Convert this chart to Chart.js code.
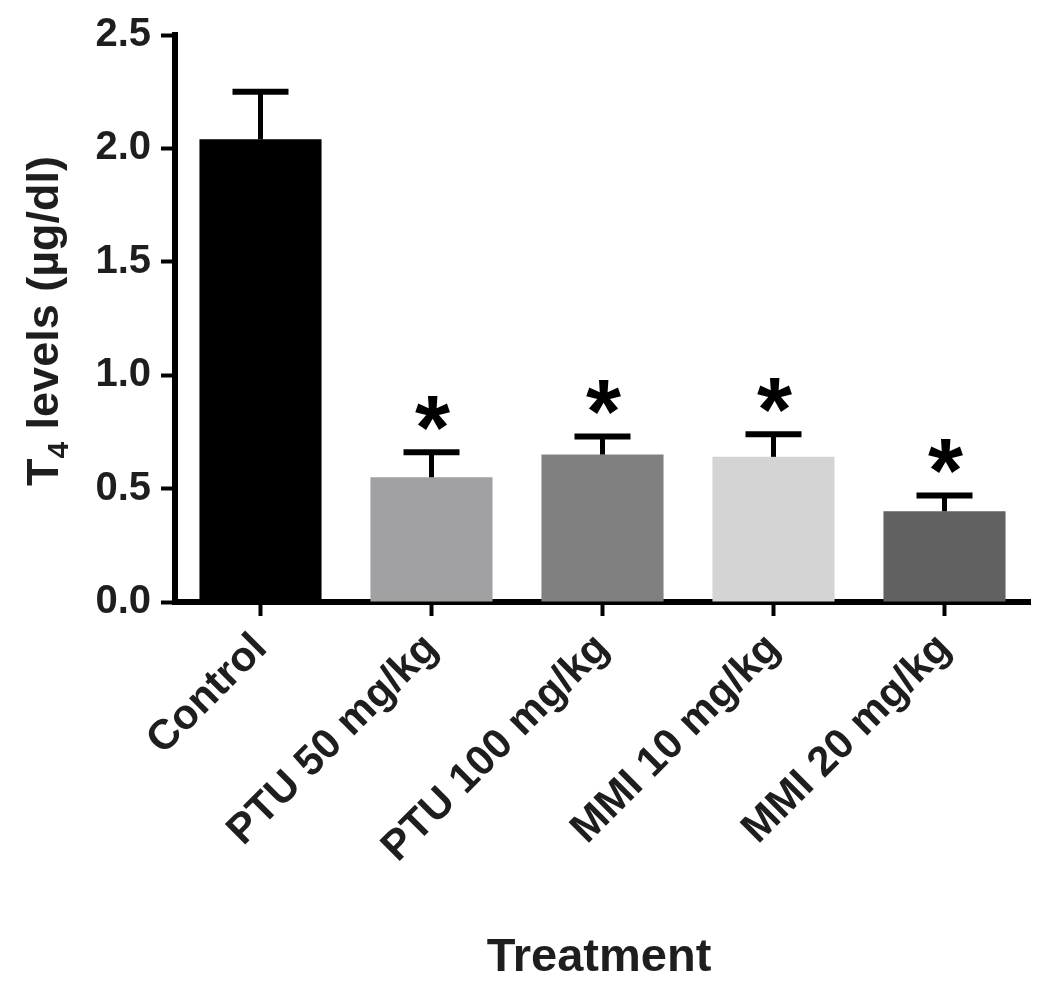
<!DOCTYPE html>
<html>
<head>
<meta charset="utf-8">
<script src="https://cdn.jsdelivr.net/npm/chart.js@4/dist/chart.umd.min.js"></script>
<style>
  html, body { margin: 0; padding: 0; background: #fff; }
  #wrap { width: 1050px; height: 996px; }
</style>
</head>
<body>
<div id="wrap"><canvas id="t4Chart" width="1050" height="996"></canvas></div>
<script>
// T4 levels per treatment group (mean and SEM, ug/dl)
const categories = ['Control', 'PTU 50 mg/kg', 'PTU 100 mg/kg', 'MMI 10 mg/kg', 'MMI 20 mg/kg'];
const means = [2.04, 0.55, 0.65, 0.64, 0.40];
const sem = [0.21, 0.11, 0.08, 0.10, 0.07];
const significance = ['', '*', '*', '*', '*'];
const yTicks = [0, 0.5, 1.0, 1.5, 2.0, 2.5];

const barColors = ['#000000', '#a1a1a4', '#808080', '#d4d4d4', '#616161'];
const fontFamily = '"Liberation Sans", Arial, sans-serif';
const textColor = '#1e1e1e';

// Draw error bars (upper only) and significance stars
const errorBarPlugin = {
  id: 'errorBars',
  afterDatasetsDraw(chart) {
    const ctx = chart.ctx;
    const yScale = chart.scales.y;
    const meta = chart.getDatasetMeta(0);
    ctx.save();
    meta.data.forEach((bar, i) => {
      const x = bar.x;
      const yBar = bar.y;
      const yTop = yScale.getPixelForValue(means[i] + sem[i]);
      ctx.strokeStyle = '#000';
      ctx.lineWidth = 5;
      ctx.beginPath();
      ctx.moveTo(x, yBar);
      ctx.lineTo(x, yTop);
      ctx.stroke();
      ctx.lineWidth = 6;
      ctx.beginPath();
      ctx.moveTo(x - 28, yTop);
      ctx.lineTo(x + 28, yTop);
      ctx.stroke();

      if (significance[i]) {
        ctx.font = 'bold 90px ' + fontFamily;
        ctx.fillStyle = '#000';
        ctx.textAlign = 'center';
        ctx.textBaseline = 'alphabetic';
        const m = ctx.measureText(significance[i]);
        // star's lower edge sits about 22px above the cap
        const bottom = yTop - 22;
        ctx.fillText(significance[i], x + 1, bottom - m.actualBoundingBoxDescent);
      }
    });
    ctx.restore();
  }
};

// Axis titles (y title has subscript 4)
const titlesPlugin = {
  id: 'axisTitles',
  afterDraw(chart) {
    const ctx = chart.ctx;
    ctx.save();
    ctx.fillStyle = textColor;

    // x title
    ctx.font = 'bold 47px ' + fontFamily;
    ctx.textAlign = 'center';
    ctx.textBaseline = 'middle';
    ctx.fillText('Treatment', 599, 958);

    // y title, rotated
    ctx.translate(58, 321);
    ctx.rotate(-Math.PI / 2);
    const big = 'bold 45px ' + fontFamily;
    const small = 'bold 30px ' + fontFamily;
    ctx.textBaseline = 'alphabetic';
    ctx.textAlign = 'left';
    ctx.font = big;
    const wT = ctx.measureText('T').width;
    const rest = ' levels (\u00b5g/dl)';
    const wRest = ctx.measureText(rest).width;
    ctx.font = small;
    const w4 = ctx.measureText('4').width;
    const total = wT + w4 + wRest;
    let x = -total / 2;
    ctx.font = big;
    ctx.fillText('T', x, 0);
    x += wT;
    ctx.font = small;
    ctx.fillText('4', x, 10);
    x += w4;
    ctx.font = big;
    ctx.fillText(rest, x, 0);
    ctx.restore();
  }
};

new Chart(document.getElementById('t4Chart'), {
  type: 'bar',
  data: {
    labels: categories,
    datasets: [{
      label: 'T4 levels',
      data: means,
      backgroundColor: barColors,
      borderWidth: 0,
      categoryPercentage: 1.0,
      barPercentage: 0.714
    }]
  },
  options: {
    responsive: false,
    animation: false,
    devicePixelRatio: 1,
    layout: { padding: { left: 0, right: 20, top: 35, bottom: 0 } },
    plugins: {
      legend: { display: false },
      tooltip: { enabled: false }
    },
    scales: {
      x: {
        afterFit(scale) { scale.height = 394; },
        border: { display: true, color: '#000', width: 6 },
        grid: {
          display: true,
          offset: false,
          drawOnChartArea: false,
          drawTicks: true,
          tickLength: 14,
          tickWidth: 4,
          tickColor: '#000'
        },
        ticks: {
          color: textColor,
          font: { family: fontFamily, size: 42, weight: 'bold' },
          minRotation: 45,
          maxRotation: 45,
          padding: 8
        }
      },
      y: {
        min: 0,
        max: 2.5,
        afterFit(scale) { scale.width = 175; },
        afterBuildTicks(scale) { scale.ticks = yTicks.map(v => ({ value: v })); },
        border: { display: true, color: '#000', width: 6 },
        grid: {
          display: true,
          drawOnChartArea: false,
          drawTicks: true,
          tickLength: 14,
          tickWidth: 4,
          tickColor: '#000'
        },
        ticks: {
          color: textColor,
          font: { family: fontFamily, size: 40, weight: 'bold' },
          padding: 10,
          callback: v => Number(v).toFixed(1)
        }
      }
    }
  },
  plugins: [errorBarPlugin, titlesPlugin]
});
</script>
</body>
</html>
